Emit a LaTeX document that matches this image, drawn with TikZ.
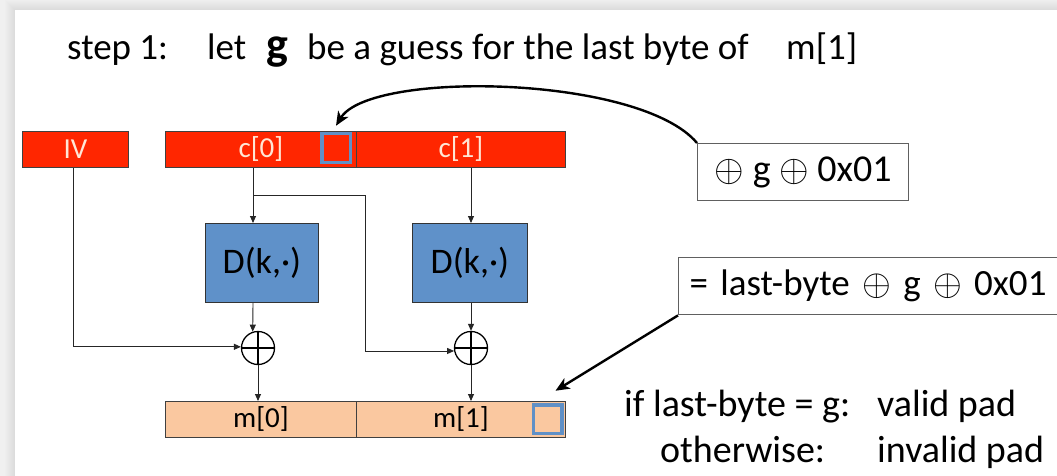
\RequirePackage{fix-cm}
\documentclass[tikz,border=0pt]{standalone}
\usepackage{fontspec}
\setmainfont{Carlito}
\usetikzlibrary{arrows.meta,calc}

\definecolor{cbred}{HTML}{FF2600}
\definecolor{cblabel}{HTML}{FFE6D6}
\definecolor{decblue}{HTML}{5F91C9}
\definecolor{sqblue}{HTML}{6090C6}
\definecolor{ptpeach}{HTML}{FAC8A0}
\definecolor{boxedge}{HTML}{606060}

\newcommand{\fs}[1]{\fontsize{#1}{#1}\selectfont}
\newcommand{\xo}{$\oplus$}

\begin{document}
\begin{tikzpicture}[x=1pt,y=-1pt,
  redblk/.style={draw=black!75, line width=0.8pt, fill=cbred, text=cblabel,
    font=\fs{29}, inner sep=0pt, anchor=north west, minimum height=36},
  ptblk/.style={draw=black!75, line width=0.8pt, fill=ptpeach, text=black,
    font=\fs{29}, inner sep=0pt, anchor=north west, minimum height=36},
  decbox/.style={draw=black!80, line width=0.8pt, fill=decblue, font=\fs{36},
    inner sep=0pt, anchor=north west, minimum height=79},
  marker/.style={draw=sqblue, line width=3.5pt, minimum size=28.5,
    inner sep=0pt, outer sep=0pt},
  xorgate/.style={circle, draw=black, line width=1.3pt, minimum size=33,
    inner sep=0pt, fill=white,
    path picture={\draw[line width=1.3pt]
      (path picture bounding box.north) -- (path picture bounding box.south)
      (path picture bounding box.west) -- (path picture bounding box.east);}},
  wire/.style={draw=black!85, line width=0.9pt},
  conn/.style={wire, -{Triangle[length=7pt,width=6pt]}},
  callout/.style={draw=black, line width=2.4pt,
    -{Stealth[length=14pt,width=12pt,inset=4pt]}},
  note/.style={draw=boxedge, line width=1.4pt, fill=white, font=\fs{38},
    inner sep=0pt, anchor=north west, minimum height=57},
  txt/.style={anchor=base west, inner sep=0pt, font=\fs{37}}]

\useasboundingbox (0,0) rectangle (1057,476);
\clip (0,0) rectangle (1057,476);

% slide backdrop with a soft shadow along the top and left edges
\fill[black!6] (0,0) rectangle (1057,476);
\foreach \i in {1,...,10}
  \fill[black, opacity=0.008] (15-\i,10-\i) rectangle (1057,476);
\fill[white] (15,10) rectangle (1057,476);

% heading
\node[txt] (h1) at (67,60) {step 1:};
\node[txt] (h2) at (207,60) {let};
\node[txt, font=\fs{46}\bfseries] (h3) at (266,60) {g};
\node[txt] (h4) at (307,60) {be a guess for the last byte of};
\node[txt] (h5) at (786,60) {m[1]};

% ciphertext blocks
\node[redblk, minimum width=106] (iv) at (22,131) {IV};
\node[redblk, minimum width=191] (c0) at (165,131) {c[0]};
\node[redblk, minimum width=209] (c1) at (356,131) {c[1]};
\node[marker, fill=cbred] (sqc) at (336,148) {};

% decryption boxes
\node[decbox, minimum width=113] (d0) at (205,223) {D(k,·)};
\node[decbox, minimum width=115] (d1) at (412,223) {D(k,·)};

% xor gates
\node[xorgate] (x0) at (258,348) {};
\node[xorgate] (x1) at (471,348) {};

% plaintext blocks
\node[ptblk, minimum width=191] (m0) at (165,401) {m[0]};
\node[ptblk, minimum width=209] (m1) at (356,401) {m[1]};
\node[marker, fill=ptpeach] (sqm) at (547.5,419) {};

% wiring
\coordinate (tap) at (253,195);
\coordinate (bend) at (365,195);
\draw[conn] ([xshift=-2pt]iv.south) |- (x0.176);
\draw[conn] (c0.south -| tap) -- (d0.north -| tap);
\draw[wire] (tap) -- (bend);
\draw[conn] (bend) |- (x1.190);
\draw[conn] (d0.south -| tap) -- (x0.108);
\draw[conn] (c1.south -| x1.north) -- (d1.north -| x1.north);
\draw[conn] (d1.south -| x1.north) -- (x1.north);
\draw[conn] (x0.south) -- (m0.north -| x0.south);
\draw[conn] (x1.south) -- (m1.north -| x1.south);

% annotations
\node[note, minimum width=211] (n1) at (697,143) {\xo{} g \xo{} 0x01};
\node[note, font=\fs{37}, text width=420, align=left, inner xsep=11pt]
  (n2) at (678,257) {= last-byte \xo{} g \xo{} 0x01};

\draw[callout] (n1.north west) .. controls (640,75) and (370,70) ..
  ([yshift=8pt]sqc.north);
\draw[callout] (n2.south west) -- ([shift={(8pt,14pt)}]sqm.north);

% outcome
\node[txt, font=\fs{38}] (o1) at (624,416) {if last-byte = g:};
\node[txt, font=\fs{38}] (o2) at (877,416) {valid pad};
\node[txt, font=\fs{38}] (o3) at (660,462) {otherwise:};
\node[txt, font=\fs{38}] (o4) at (877,462) {invalid pad};
\end{tikzpicture}
\end{document}
